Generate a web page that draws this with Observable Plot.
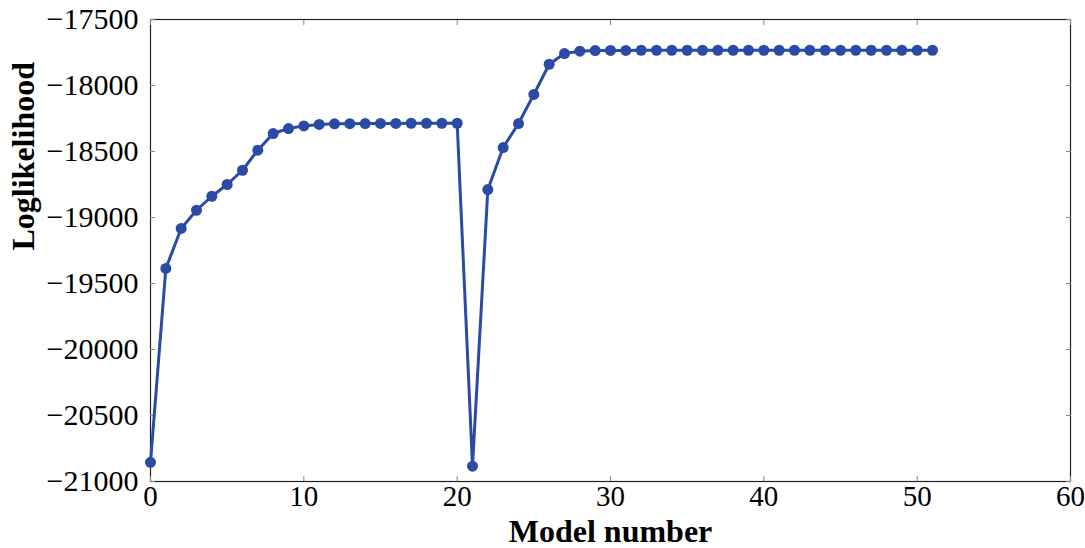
<!DOCTYPE html>
<html>
<head>
<meta charset="utf-8">
<script src="https://cdn.jsdelivr.net/npm/d3@7"></script>
<script src="https://cdn.jsdelivr.net/npm/@observablehq/plot@0.6"></script>
<style>
  html, body { margin: 0; padding: 0; background: #fff; }
  #chart svg, #chart svg text { font-family: "Liberation Serif", "DejaVu Serif", serif !important; }
  #chart g[aria-label="x-title"] text, #chart g[aria-label="y-title"] text { letter-spacing: 1px; }
</style>
</head>
<body>
<div id="chart"></div>
<script>
const modelNumbers = [
  0, 1, 2, 3, 4, 5, 6, 7, 8, 9,
  10, 11, 12, 13, 14, 15, 16, 17, 18, 19,
  20, 21, 22, 23, 24, 25, 26, 27, 28, 29,
  30, 31, 32, 33, 34, 35, 36, 37, 38, 39,
  40, 41, 42, 43, 44, 45, 46, 47, 48, 49,
  50, 51
];
const logLikelihood = [
  -20855, -19386, -19083, -18945, -18839, -18750, -18642, -18490, -18364, -18326,
  -18306, -18295, -18290, -18289, -18288, -18287, -18287, -18286, -18286, -18286,
  -18286, -20884, -18788, -18470, -18288, -18068, -17839, -17758, -17740, -17735,
  -17734, -17734, -17733, -17733, -17733, -17733, -17733, -17733, -17733, -17733,
  -17733, -17733, -17733, -17733, -17733, -17733, -17733, -17733, -17733, -17733,
  -17733, -17733
];
const xTicks = [0, 10, 20, 30, 40, 50, 60];
const yTicks = [-21000, -20500, -20000, -19500, -19000, -18500, -18000, -17500];
const xLabel = "Model number";
const yLabel = "Loglikelihood";

const data = modelNumbers.map((m, i) => ({model: m, ll: logLikelihood[i]}));
const lineColor = "#2b4aa6";
const fmt = d3.format("d");

const chart = Plot.plot({
  width: 1085,
  height: 548,
  marginLeft: 150,
  marginRight: 15,
  marginTop: 19,
  marginBottom: 67,
  style: {fontFamily: "'Liberation Serif', 'DejaVu Serif', serif", color: "#000", background: "#fff"},
  x: {domain: [0, 60]},
  y: {domain: [-21000, -17500]},
  marks: [
    Plot.frame({stroke: "#222", strokeWidth: 1.2}),
    // inward tick marks on all four sides
    Plot.axisX({ticks: xTicks, anchor: "bottom", tickSize: -5, tickFormat: () => "", stroke: "#888", label: null}),
    Plot.axisX({ticks: xTicks, anchor: "top", tickSize: -5, tickFormat: () => "", stroke: "#888", label: null}),
    Plot.axisY({ticks: yTicks, anchor: "left", tickSize: -5, tickFormat: () => "", stroke: "#888", label: null}),
    Plot.axisY({ticks: yTicks, anchor: "right", tickSize: -5, tickFormat: () => "", stroke: "#888", label: null}),
    // tick labels
    Plot.axisX({ticks: xTicks, anchor: "bottom", tickSize: 0, tickPadding: 4, tickFormat: fmt, fontSize: 29, fill: "#000", label: null}),
    Plot.axisY({ticks: yTicks, anchor: "left", tickSize: 0, tickPadding: 12, tickFormat: fmt, fontSize: 30, fill: "#000", label: null}),
    // axis titles
    Plot.text([xLabel], {ariaLabel: "x-title", frameAnchor: "bottom", dy: 50, text: d => d, fontSize: 32, fontWeight: "bold", lineAnchor: "middle", fill: "#000"}),
    Plot.text([yLabel], {ariaLabel: "y-title", frameAnchor: "left", dx: -127, rotate: -90, text: d => d, fontSize: 32, fontWeight: "bold", lineAnchor: "middle", fill: "#000"}),
    // data
    Plot.line(data, {x: "model", y: "ll", stroke: lineColor, strokeWidth: 3}),
    Plot.dot(data, {x: "model", y: "ll", r: 5.5, fill: lineColor, stroke: "none"})
  ]
});
document.getElementById("chart").appendChild(chart);
</script>
</body>
</html>
